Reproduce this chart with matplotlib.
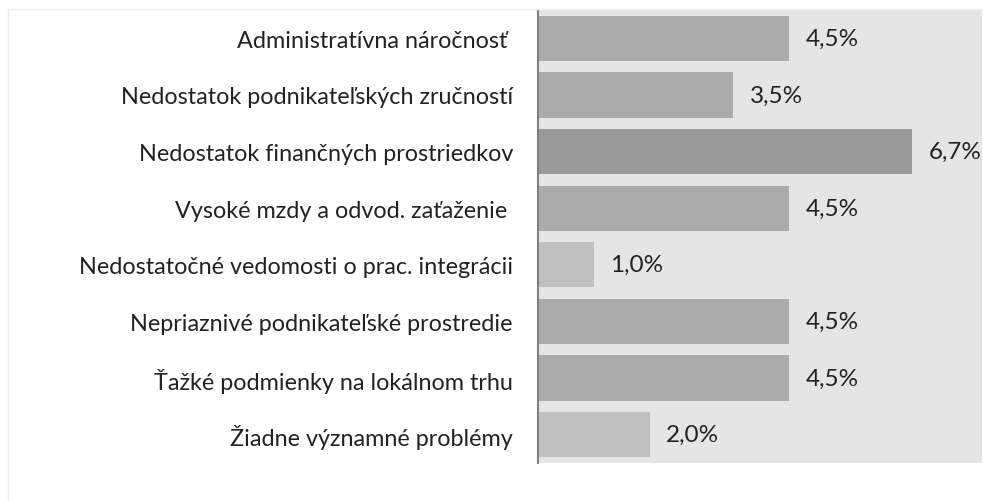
import matplotlib
matplotlib.use("Agg")
import matplotlib.pyplot as plt
from matplotlib.lines import Line2D

categories = [
    "Administratívna náročnosť ",
    "Nedostatok podnikateľských zručností",
    "Nedostatok finančných prostriedkov",
    "Vysoké mzdy a odvod. zaťaženie ",
    "Nedostatočné vedomosti o prac. integrácii",
    "Nepriaznivé podnikateľské prostredie",
    "Ťažké podmienky na lokálnom trhu",
    "Žiadne významné problémy",
]
values = [4.5, 3.5, 6.7, 4.5, 1.0, 4.5, 4.5, 2.0]
labels = ["4,5%", "3,5%", "6,7%", "4,5%", "1,0%", "4,5%", "4,5%", "2,0%"]
colors = ["#ababab", "#ababab", "#9a9a9a", "#ababab", "#c0c0c0", "#ababab", "#ababab", "#c0c0c0"]

plt.rcParams['font.family'] = ['Lato', 'DejaVu Sans']

W, H = 983, 502
fig = plt.figure(figsize=(W / 100, H / 100), dpi=100)

# faint outer chart border (top and left)
fig.add_artist(Line2D([8 / W, 8 / W], [0, 1 - 10 / H], transform=fig.transFigure,
                      color="#eeeeee", lw=1))
fig.add_artist(Line2D([8 / W, 1], [1 - 10 / H, 1 - 10 / H], transform=fig.transFigure,
                      color="#eeeeee", lw=1))

ax = fig.add_axes([538 / W, 38 / H, 444 / W, 453 / H])
ax.set_facecolor("#e5e5e5")

ypos = list(range(len(values)))
ax.barh(ypos, values, height=0.8, color=colors, edgecolor="none")
for y, v, t in zip(ypos, values, labels):
    ax.text(v + 0.3, y, t, va="center", ha="left", fontsize=17.5, color="#222222")

ax.set_xlim(0, 7.96)
ax.set_ylim(len(values) - 0.5, -0.5)
ax.set_yticks(ypos)
ax.set_yticklabels(categories, fontsize=16.8, color="#222222")
ax.tick_params(axis='y', length=0, pad=18)
ax.set_xticks([])
for s in ["top", "right", "bottom"]:
    ax.spines[s].set_visible(False)
ax.spines["left"].set_color("#7f7f7f")
ax.spines["left"].set_linewidth(1.5)

fig.savefig("out.png", dpi=100)
